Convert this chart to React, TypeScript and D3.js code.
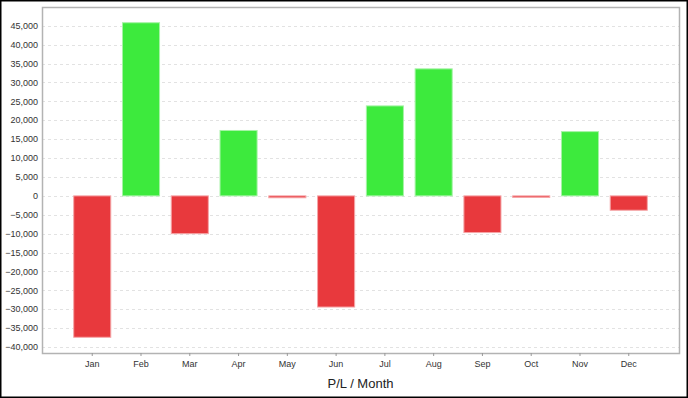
import React, { useEffect, useRef } from 'react';
import * as d3 from 'd3';

const months = ['Jan', 'Feb', 'Mar', 'Apr', 'May', 'Jun', 'Jul', 'Aug', 'Sep', 'Oct', 'Nov', 'Dec'];
const profitLoss = [-37400, 45800, -10000, 17300, -500, -29400, 23800, 33600, -9700, -400, 17000, -3800];
const yTicks = d3.range(-40000, 45001, 5000);

const WIDTH = 688;
const HEIGHT = 398;

export default function App() {
  const svgRef = useRef<SVGSVGElement | null>(null);

  useEffect(() => {
    const svg = d3.select(svgRef.current);
    svg.selectAll('*').remove();

    const left = 42, right = 679, top = 7, bottom = 353;

    // outer frame
    svg.append('rect')
      .attr('x', 0.5).attr('y', 0.5)
      .attr('width', WIDTH - 1).attr('height', HEIGHT - 1)
      .attr('fill', '#fff').attr('stroke', '#000').attr('stroke-width', 2);

    const x = d3.scaleBand<string>()
      .domain(months)
      .range([left, right])
      .paddingInner(0.24)
      .paddingOuter(0.65);

    const yMin = d3.min(profitLoss)!;
    const yMax = d3.max(profitLoss)!;
    const pad = (yMax - yMin) * 0.05;
    const y = d3.scaleLinear().domain([yMin - pad, yMax + pad]).range([bottom, top]);

    // grid
    svg.append('g').selectAll('line').data(yTicks).enter().append('line')
      .attr('x1', left).attr('x2', right)
      .attr('y1', d => Math.round(y(d)) + 0.5).attr('y2', d => Math.round(y(d)) + 0.5)
      .attr('stroke', '#e2e2e2').attr('stroke-dasharray', '3,3');

    // bars
    svg.append('g').selectAll('rect').data(profitLoss).enter().append('rect')
      .attr('x', (d, i) => x(months[i])!)
      .attr('width', x.bandwidth())
      .attr('y', d => y(Math.max(0, d)))
      .attr('height', d => Math.abs(y(d) - y(0)))
      .attr('fill', d => (d >= 0 ? '#3dea3d' : '#e8393d'))
      .attr('stroke', d => (d >= 0 ? '#a6f3a6' : '#f5a5a7'))
      .attr('stroke-width', 1);

    // plot border
    svg.append('rect')
      .attr('x', left + 0.5).attr('y', top + 0.5)
      .attr('width', right - left).attr('height', bottom - top)
      .attr('fill', 'none').attr('stroke', '#b3b3b3').attr('stroke-width', 1.5);

    // y labels
    svg.append('g').selectAll('text').data(yTicks).enter().append('text')
      .attr('x', left - 4)
      .attr('y', d => y(d))
      .attr('dy', '0.35em')
      .attr('text-anchor', 'end')
      .attr('fill', '#333')
      .style('font-family', 'Liberation Sans, Arial, sans-serif')
      .style('font-size', '9px')
      .text(d => d3.format(',')(d));

    // x ticks + labels
    const xg = svg.append('g');
    months.forEach(m => {
      const cx = x(m)! + x.bandwidth() / 2;
      xg.append('line')
        .attr('x1', cx).attr('x2', cx)
        .attr('y1', bottom).attr('y2', bottom + 3)
        .attr('stroke', '#999');
      xg.append('text')
        .attr('x', cx).attr('y', bottom + 14)
        .attr('text-anchor', 'middle')
        .attr('fill', '#333')
        .style('font-family', 'Liberation Sans, Arial, sans-serif')
        .style('font-size', '9px')
        .text(m);
    });

    svg.append('text')
      .attr('x', (left + right) / 2).attr('y', 388)
      .attr('text-anchor', 'middle')
      .attr('fill', '#222')
      .style('font-family', 'Liberation Sans, Arial, sans-serif')
      .style('font-size', '13px')
      .text('P/L / Month');
  }, []);

  return (
    <svg
      ref={svgRef}
      width={WIDTH}
      height={HEIGHT}
      style={{ position: 'fixed', left: 0, top: 0, display: 'block' }}
    />
  );
}
